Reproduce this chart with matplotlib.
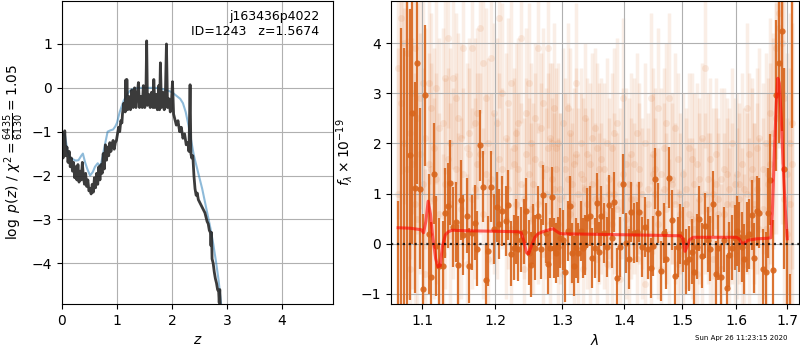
import matplotlib
matplotlib.use('Agg')
import matplotlib.pyplot as plt
from matplotlib.ticker import NullLocator

plt.rcParams['path.simplify'] = False

# --- p(z) panel ---
z_grid = [0.00, 0.02, 0.04, 0.05, 0.07, 0.09, 0.11, 0.13, 0.15, 0.17,
          0.19, 0.21, 0.23, 0.25, 0.27, 0.29, 0.31, 0.33, 0.35, 0.37,
          0.39, 0.41, 0.43, 0.45, 0.47, 0.49, 0.51, 0.53, 0.55, 0.57,
          0.59, 0.61, 0.63, 0.65, 0.67, 0.69, 0.71, 0.73, 0.75, 0.77,
          0.79, 0.81, 0.83, 0.85, 0.87, 0.89, 0.91, 0.93, 0.95, 0.97,
          0.99, 1.01, 1.03, 1.05, 1.07, 1.09,
          1.10, 1.125, 1.15, 1.16, 1.17, 1.18, 1.195, 1.22, 1.245, 1.27,
          1.295, 1.32, 1.345, 1.37, 1.39, 1.41, 1.435, 1.46, 1.48, 1.505,
          1.525, 1.54, 1.555, 1.58, 1.605, 1.63, 1.655, 1.67, 1.69, 1.715,
          1.735, 1.76, 1.775, 1.79, 1.81, 1.835, 1.86, 1.88, 1.90, 1.92,
          1.945, 1.97, 1.99, 2.01, 2.03, 2.05,
          2.08, 2.11, 2.14, 2.17, 2.20, 2.23, 2.26, 2.29, 2.31, 2.33,
          2.345, 2.36, 2.38, 2.40, 2.42, 2.44, 2.46, 2.48, 2.50, 2.52,
          2.54, 2.56, 2.58, 2.60, 2.62, 2.64, 2.66, 2.68, 2.70, 2.71,
          2.72, 2.73, 2.75, 2.77, 2.79, 2.81, 2.83, 2.85, 2.86, 2.87,
          2.88, 2.90]
logpz = [-1.45, -1.60, -1.25, -0.98, -1.55, -1.35, -1.70, -1.45, -1.80, -1.60,
         -1.90, -1.70, -2.05, -1.80, -2.10, -1.75, -2.15, -1.90, -2.10, -1.70,
         -2.05, -2.20, -1.95, -2.25, -2.10, -2.35, -2.30, -2.42, -2.20, -2.38,
         -2.05, -2.28, -1.95, -2.20, -1.80, -2.10, -1.75, -1.95, -1.50, -1.85,
         -1.30, -1.65, -1.35, -1.55, -1.25, -1.45, -1.30, -1.20, -1.40, -1.25,
         -1.20, -1.05, -0.90, -1.00, -0.75, -0.80,
         -0.60, -0.35, -0.55, 0.18, -0.45, 0.19, -0.50, -0.20, -0.50, -0.05,
         -0.45, 0.00, -0.45, -0.15, 0.12, -0.45, -0.20, -0.45, 0.05, -0.45,
         -0.30, 1.07, -0.40, -0.15, -0.45, -0.10, -0.45, 0.19, -0.45, -0.15,
         -0.50, 0.05, -0.50, 0.57, -0.45, -0.10, -0.50, -0.20, 1.00, -0.45,
         -0.25, -0.55, -0.35, 0.14, -0.60, -0.70,
         -0.85, -0.75, -1.00, -0.90, -1.15, -1.05, -1.30, -1.25, -1.45, 0.07,
         -1.50, -1.60, -1.55, -2.00, -2.30, -2.45, -2.40, -2.55, -2.60, -2.65,
         -2.70, -2.75, -2.80, -2.85, -2.95, -3.05, -3.10, -3.25, -3.30, -3.60,
         -3.30, -3.90, -4.00, -4.20, -4.35, -4.45, -4.60, -4.65, -4.90, -4.60,
         -5.00, -5.30]

z_prior = [0.00, 0.05, 0.10, 0.15, 0.20, 0.25, 0.30, 0.35, 0.38, 0.42,
           0.46, 0.51, 0.56, 0.60, 0.65, 0.70, 0.74, 0.78, 0.83, 0.88,
           0.93, 0.97, 1.00, 1.05, 1.12, 1.20, 1.25, 1.30, 1.40, 1.50,
           1.60, 1.70, 1.80, 1.90, 2.00, 2.10, 2.15, 2.20, 2.25, 2.30,
           2.35, 2.40, 2.45, 2.50, 2.55, 2.60, 2.65, 2.70, 2.75, 2.80,
           2.85, 2.90]
logp_prior = [-1.10, -1.05, -1.45, -1.60, -1.63, -1.66, -1.65, -1.55, -1.50, -1.70,
              -1.85, -2.00, -1.92, -1.80, -1.72, -1.80, -1.55, -1.30, -1.00, -0.97,
              -0.95, -0.88, -0.80, -0.55, -0.30, -0.12, -0.05, -0.02, 0.00, 0.00,
              0.00, 0.00, -0.02, -0.05, -0.10, -0.20, -0.25, -0.35, -0.55, -0.85,
              -1.20, -1.55, -1.80, -2.05, -2.30, -2.60, -2.90, -3.20, -3.55, -3.95,
              -4.40, -5.00]

# --- spectrum panel ---
wave_bin = [1.069, 1.073, 1.077, 1.081, 1.084, 1.087, 1.091, 1.094, 1.097, 1.101,
            1.104, 1.109, 1.112, 1.116, 1.118, 1.123, 1.128, 1.131, 1.135, 1.137,
            1.141, 1.146, 1.148, 1.152, 1.155, 1.161, 1.163, 1.168, 1.172, 1.175,
            1.179, 1.183, 1.187, 1.190, 1.194, 1.199, 1.203, 1.206, 1.210, 1.216,
            1.219, 1.223, 1.228, 1.230, 1.233, 1.238, 1.242, 1.245, 1.250, 1.253,
            1.256, 1.259, 1.263, 1.268, 1.271, 1.275, 1.278, 1.281, 1.284, 1.287,
            1.290, 1.294, 1.297, 1.301, 1.304, 1.309, 1.312, 1.315, 1.319, 1.322,
            1.325, 1.330, 1.333, 1.336, 1.339, 1.344, 1.347, 1.352, 1.355, 1.358,
            1.362, 1.367, 1.371, 1.375, 1.380, 1.383, 1.388, 1.393, 1.398, 1.403,
            1.408, 1.411, 1.416, 1.421, 1.425, 1.430, 1.435, 1.440, 1.445, 1.449,
            1.452, 1.457, 1.462, 1.468, 1.471, 1.476, 1.482, 1.487, 1.492, 1.496,
            1.501, 1.507, 1.512, 1.518, 1.521, 1.527, 1.530, 1.536, 1.541, 1.547,
            1.550, 1.556, 1.562, 1.565, 1.571, 1.577, 1.582, 1.586, 1.592, 1.597,
            1.601, 1.605, 1.611, 1.615, 1.620, 1.624, 1.630, 1.634, 1.640, 1.644,
            1.651, 1.657, 1.661, 1.665, 1.671, 1.677, 1.683, 1.689, 1.693, 1.699,
            1.706, 1.710]
flux_bin = [-2.6, -2.0, -1.8, 5.3, 1.78, 2.60, 1.12, 3.60, 1.10, -0.90,
            2.96, 0.20, -0.66, 1.40, -0.04, -0.44, -0.44, 0.62, 0.76, 1.22,
            0.34, 0.44, -0.42, 0.88, 0.18, 0.56, -0.44, 0.22, 0.42, -0.10,
            1.96, 1.14, -0.72, -0.14, 1.14, 0.30, 0.74, 0.40, 0.66, 0.46,
            0.78, -0.20, -0.08, 0.24, -0.10, 0.08, 0.24, 0.66, -0.18, -0.42,
            0.20, -0.08, 0.56, -0.10, 0.98, 0.22, -0.40, -0.08, 0.94, -0.08,
            -0.18, -0.06, 0.12, 0.08, -0.56, 0.26, 0.76, -0.18, -0.44, -0.08,
            -0.18, 0.26, -0.08, -0.02, 0.52, 0.56, -0.28, -0.08, 0.82, -0.16,
            0.56, 0.22, -0.06, 0.78, 0.12, 0.84, -0.68, -0.06, 1.20, 0.02,
            -0.30, 0.64, 0.22, 0.24, 0.64, -0.06, 0.34, -0.10, -0.48, -0.04,
            1.30, 0.62, -0.54, 0.22, -0.30, 1.32, 0.48, -0.64, -0.06, 0.20,
            0.08, -0.36, -0.30, -0.16, -0.56, -0.06, 0.50, -0.24, 0.36, 0.08,
            -0.10, 0.80, -0.60, -0.08, -0.66, 0.08, -0.88, -0.22, -0.08, 0.12,
            0.26, 0.14, -0.06, -0.30, 0.14, 0.20, 0.58, -0.28, 0.66, 0.62,
            -0.50, -0.56, 0.62, 1.28, -0.52, 2.96, 3.60, 4.24, 1.50, -1.6,
            -1.5, 5.2]
err_bin = [3.45, 6.3, 5.7, 7.0, 2.9, 2.6, 2.1, 2.4, 1.6, 1.5,
           1.4, 1.2, 1.1, 1.0, 1.0, 0.95, 0.9, 0.9, 0.85, 0.85,
           0.8, 0.8, 0.8, 0.8, 0.8, 0.75, 0.75, 0.75, 0.75, 0.75,
           0.7, 0.7, 0.7, 0.7, 0.7, 0.7, 0.7, 0.7, 0.7, 0.7,
           0.7, 0.65, 0.65, 0.65, 0.65, 0.65, 0.65, 0.65, 0.65, 0.65,
           0.6, 0.65, 0.6, 0.6, 0.6, 0.6, 0.6, 0.6, 0.6, 0.6,
           0.6, 0.6, 0.6, 0.6, 0.6, 0.6, 0.6, 0.6, 0.6, 0.6,
           0.6, 0.6, 0.6, 0.6, 0.6, 0.6, 0.6, 0.6, 0.6, 0.6,
           0.6, 0.6, 0.6, 0.6, 0.6, 0.6, 0.6, 0.6, 0.6, 0.6,
           0.6, 0.6, 0.6, 0.6, 0.6, 0.6, 0.6, 0.6, 0.6, 0.6,
           0.6, 0.6, 0.6, 0.6, 0.6, 0.6, 0.6, 0.6, 0.6, 0.6,
           0.65, 0.65, 0.65, 0.65, 0.65, 0.65, 0.65, 0.65, 0.65, 0.65,
           0.65, 0.65, 0.65, 0.65, 0.65, 0.65, 0.65, 0.65, 0.65, 0.65,
           0.7, 0.7, 0.7, 0.7, 0.7, 0.7, 0.7, 0.7, 0.7, 0.7,
           0.8, 0.8, 0.9, 0.9, 1.0, 1.5, 1.6, 2.0, 2.0, 1.9,
           0.9, 2.9]

# unbinned spectra (faint)
flux_a = [3.5, 2.8, 4.0, 1.5, 2.2, 3.0, 0.8, 2.5, 1.8, 3.2,
          2.1, 3.2, 1.5, 1.9, 3.1, 0.6, 2.4, 1.2, 4.1, 2.0,
          3.3, 1.5, 2.5, 0.7, 3.9, 1.9, 2.2, 3.9, 1.1, 2.6,
          4.3, 3.6, 1.4, 2.0, 3.7, 1.0, 2.4, 4.5, 1.5, 2.1,
          1.1, 3.2, 1.9, 2.2, 1.5, 4.1, 0.9, 2.6, 1.4, 2.0,
          1.2, 2.5, 3.9, 1.6, 2.8, 1.0, 3.9, 2.1, 1.3, 2.7,
          1.5, 2.0, 0.9, 2.4, 1.7, 1.3, 2.2, 0.8, 1.6, 3.2,
          1.0, 2.0, 1.3, 2.5, 0.8, 1.6, 1.2, 2.3, 1.9, 0.7,
          1.7, 0.6, 2.0, 1.3, 1.9, 1.0, 2.4, 1.2, 2.9, 1.6,
          1.2, 1.8, 0.9, 2.2, 1.5, 1.0, 2.0, 0.8, 2.9, 1.4,
          1.0, 2.7, 1.4, 1.9, 0.7, 2.9, 1.2, 2.3, 1.7, 0.6,
          1.4, 0.8, 1.9, 0.5, 1.2, 1.6, 0.9, 2.1, 3.5, 1.3,
          1.7, 1.0, 1.8, 0.6, 1.3, 1.5, 0.8, 1.1, 2.0, 1.2,
          1.4, 0.9, 1.6, 1.1, 2.7, 1.8, 1.3, 0.7, 1.9, 2.1,
          1.5, 2.0, 1.2, 2.6, 2.2, 3.9, 4.3, 3.0, 2.9, 1.4,
          2.0, 1.6]
flux_b = [1.0, 4.5, 2.0, 3.8, -0.5, 1.6, 3.9, 0.5, 2.9, 1.2,
          -0.6, 1.6, 2.7, 0.9, 1.3, 2.3, -0.2, 3.3, 1.7, 0.8,
          1.2, 2.9, 0.4, 2.1, 1.4, -0.4, 1.8, 0.9, 2.4, 1.6,
          1.8, 0.6, 2.9, -0.3, 1.3, 2.6, 0.9, 1.7, 3.0, 0.5,
          2.8, 0.3, 1.6, 0.8, 2.4, 1.2, -0.5, 1.8, 3.2, 0.7,
          0.5, 1.7, 0.8, 2.3, -0.2, 1.5, 1.9, 0.4, 2.0, 1.1,
          1.9, 0.4, 1.1, -0.6, 1.5, 2.7, 0.6, 1.2, 0.2, 1.8,
          0.3, 1.4, -0.5, 1.1, 1.8, 0.2, 2.1, 0.9, -0.3, 1.5,
          0.9, 1.5, -0.4, 1.0, 0.4, 2.2, 0.7, -0.7, 1.4, 0.5,
          0.3, 0.9, 1.6, -0.3, 1.2, 0.6, -0.8, 1.1, 0.2, 1.8,
          1.5, 0.4, -0.5, 1.1, 2.4, 0.2, 1.3, 0.8, -0.4, 1.0,
          -0.2, 1.1, 0.6, 1.7, 0.3, -0.6, 1.3, 0.4, 1.0, 0.7,
          0.5, -0.3, 1.2, 0.9, -0.5, 0.6, 1.4, 0.2, 0.8, -0.2,
          0.6, 1.2, 0.2, -0.4, 1.0, 0.4, 1.5, 0.8, 1.1, 0.3,
          0.7, 0.3, 1.4, 1.6, 2.0, 2.5, 4.6, 4.0, 0.9, 0.2,
          0.8, 2.4]
err_a = [3.0, 2.8, 3.2, 2.6, 2.5, 2.4, 2.6, 2.3, 2.4, 2.2,
         2.2, 2.0, 2.1, 2.0, 1.9, 2.0, 1.9, 2.1, 1.8, 1.9,
         1.8, 1.9, 1.7, 1.8, 1.8, 1.7, 1.9, 1.6, 1.8, 1.7,
         1.7, 1.8, 1.6, 1.7, 1.9, 1.6, 1.7, 1.8, 1.6, 1.7,
         1.6, 1.7, 1.6, 1.8, 1.5, 1.7, 1.6, 1.7, 1.5, 1.6,
         1.6, 1.5, 1.7, 1.6, 1.5, 1.7, 1.6, 1.5, 1.6, 1.7,
         1.5, 1.6, 1.7, 1.5, 1.6, 1.5, 1.7, 1.6, 1.5, 1.6,
         1.7, 1.5, 1.6, 1.5, 1.7, 1.6, 1.5, 1.6, 1.7, 1.5,
         1.6, 1.5, 1.7, 1.6, 1.5, 1.6, 1.7, 1.5, 1.6, 1.5,
         1.7, 1.6, 1.5, 1.6, 1.7, 1.5, 1.6, 1.5, 1.7, 1.6,
         1.5, 1.6, 1.7, 1.6, 1.5, 1.7, 1.6, 1.5, 1.7, 1.6,
         1.6, 1.7, 1.5, 1.6, 1.8, 1.6, 1.7, 1.5, 1.6, 1.7,
         1.6, 1.7, 1.5, 1.6, 1.8, 1.6, 1.7, 1.6, 1.5, 1.7,
         1.6, 1.7, 1.8, 1.6, 1.7, 1.6, 1.8, 1.7, 1.6, 1.8,
         1.7, 1.8, 1.8, 1.9, 2.0, 2.2, 2.4, 2.6, 2.5, 2.4,
         2.6, 2.8]
err_b = [2.9, 3.1, 2.7, 2.8, 2.6, 2.5, 2.3, 2.5, 2.2, 2.3,
         2.1, 2.2, 1.9, 2.0, 2.1, 1.8, 2.0, 1.9, 1.8, 2.0,
         1.9, 1.7, 1.8, 1.9, 1.7, 1.8, 1.7, 1.8, 1.7, 1.8,
         1.6, 1.7, 1.8, 1.6, 1.7, 1.8, 1.6, 1.7, 1.8, 1.6,
         1.7, 1.6, 1.7, 1.5, 1.7, 1.6, 1.7, 1.5, 1.6, 1.7,
         1.5, 1.7, 1.6, 1.5, 1.7, 1.6, 1.5, 1.7, 1.6, 1.5,
         1.6, 1.7, 1.5, 1.6, 1.5, 1.7, 1.6, 1.5, 1.6, 1.7,
         1.5, 1.6, 1.7, 1.6, 1.5, 1.6, 1.7, 1.5, 1.6, 1.7,
         1.5, 1.7, 1.6, 1.5, 1.6, 1.7, 1.5, 1.6, 1.7, 1.6,
         1.5, 1.6, 1.7, 1.5, 1.6, 1.7, 1.6, 1.5, 1.6, 1.7,
         1.6, 1.5, 1.6, 1.7, 1.6, 1.5, 1.7, 1.6, 1.5, 1.6,
         1.7, 1.6, 1.5, 1.7, 1.6, 1.5, 1.6, 1.7, 1.6, 1.5,
         1.7, 1.6, 1.5, 1.6, 1.7, 1.6, 1.5, 1.7, 1.6, 1.6,
         1.7, 1.6, 1.7, 1.8, 1.6, 1.7, 1.8, 1.6, 1.7, 1.8,
         1.8, 1.7, 1.9, 2.0, 2.1, 2.3, 2.5, 2.4, 2.6, 2.3,
         2.7, 2.9]

# best-fit model
wave_model = [1.069, 1.085, 1.099, 1.102, 1.105, 1.108, 1.111, 1.114, 1.118, 1.121,
              1.124, 1.127, 1.131, 1.135, 1.140, 1.160, 1.200, 1.234, 1.238, 1.242,
              1.246, 1.249, 1.253, 1.258, 1.263, 1.270, 1.280, 1.286, 1.290, 1.296,
              1.300, 1.350, 1.400, 1.450, 1.497, 1.501, 1.505, 1.509, 1.513, 1.520,
              1.560, 1.600, 1.605, 1.610, 1.615, 1.622, 1.640, 1.660, 1.667, 1.670,
              1.674, 1.678, 1.681, 1.684, 1.688, 1.692, 1.696, 1.700]
flux_model = [0.32, 0.31, 0.28, 0.22, 0.45, 0.85, 0.60, 0.15, -0.30, -0.46,
              -0.44, -0.05, 0.18, 0.24, 0.27, 0.26, 0.25, 0.24, 0.22, 0.05,
              -0.18, -0.20, -0.05, 0.12, 0.20, 0.24, 0.28, 0.30, 0.26, 0.21,
              0.20, 0.19, 0.18, 0.17, 0.16, 0.10, -0.15, -0.05, 0.08, 0.13,
              0.13, 0.13, 0.10, 0.02, 0.01, 0.07, 0.10, 0.11, 0.12, 0.60,
              1.80, 2.80, 3.30, 3.20, 2.50, 1.50, 0.70, 0.10]

z_best = 1.5674
chi2_num, chi2_den = 6435, 6130
field_name = 'j163436p4022'
obj_id = 1243
timestamp = 'Sun Apr 26 11:23:15 2020'

orange = '#d8651c'

fig = plt.figure(figsize=(8, 3.5), dpi=100)

# p(z)
ax1 = fig.add_axes([62/800, 46/350, 271/800, 303/350])
ax1.plot(z_prior, logp_prior, color='tab:blue', alpha=0.5, lw=1.5)
ax1.plot(z_grid, logpz, color='0.15', alpha=0.9, lw=2)
ax1.set_xlim(0, 4.93)
ax1.set_ylim(-4.93, 1.98)
ax1.set_xticks([0, 1, 2, 3, 4])
ax1.set_yticks([-4, -3, -2, -1, 0, 1])
ax1.grid(True)
ax1.set_xlabel('$z$')
ax1.set_ylabel(r'$\log\ p(z)$' + ' / ' +
               r'$\chi^2=\frac{%d}{%d}=%.2f$' % (chi2_num, chi2_den, chi2_num / chi2_den))
ax1.text(0.95, 0.97, '%s\nID=%d   z=%.4f' % (field_name, obj_id, z_best),
         ha='right', va='top', transform=ax1.transAxes, fontsize=9)

# spectrum
ax2 = fig.add_axes([391/800, 46/350, 408/800, 303/350])
for fl, er in [(flux_a, err_a), (flux_b, err_b)]:
    ax2.errorbar(wave_bin, fl, yerr=er, fmt='o', color=orange, alpha=0.11,
                 ms=5, elinewidth=2.5, mew=0, zorder=1)
ax2.errorbar(wave_bin, flux_bin, yerr=err_bin, fmt='o', color=orange, alpha=0.9,
             ms=4.5, elinewidth=1.6, mew=0, zorder=2)
ax2.plot(wave_model, flux_model, color='red', alpha=0.6, lw=2.2, zorder=3)
ax2.axhline(0, color='k', ls=':', lw=1.6, alpha=0.8, zorder=4)

ax2.set_xscale('log')
ax2.set_xlim(1.06, 1.724)
ax2.set_ylim(-1.2, 4.84)
ax2.set_xticks([1.1, 1.2, 1.3, 1.4, 1.5, 1.6, 1.7])
ax2.set_xticklabels(['1.1', '1.2', '1.3', '1.4', '1.5', '1.6', '1.7'])
ax2.xaxis.set_minor_locator(NullLocator())
ax2.set_yticks([-1, 0, 1, 2, 3, 4])
ax2.grid(True)
ax2.set_xlabel(r'$\lambda$')
ax2.set_ylabel(r'$f_\lambda\times10^{-19}$')

fig.text(0.984, 0.025, timestamp, ha='right', va='bottom', fontsize=5)

fig.savefig('out.png', dpi=100)
